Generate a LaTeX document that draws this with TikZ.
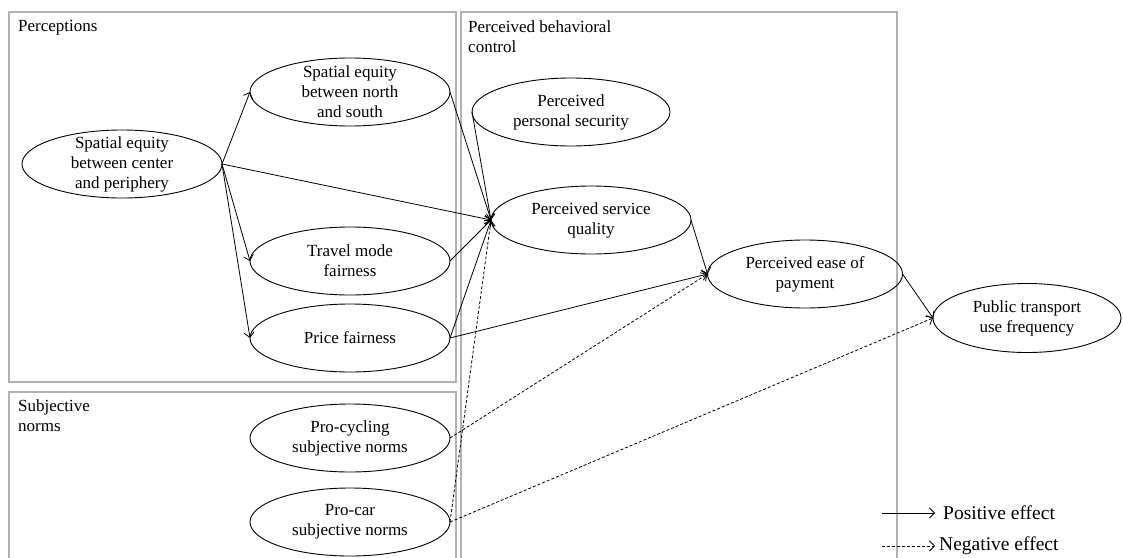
\documentclass[tikz,border=0pt]{standalone}
\usepackage{fontspec}
\setmainfont{Liberation Serif}
\usetikzlibrary{shapes.geometric, arrows.meta, positioning, backgrounds}

\begin{document}
\begin{tikzpicture}[
    x=1pt, y=1pt,
    node distance=10pt,
    latent/.style={
        ellipse, draw=black, line width=0.9pt,
        minimum width=200pt, minimum height=68pt,
        inner sep=-8pt, outer sep=0pt, align=center,
        font=\fontsize{17}{20}\selectfont
    },
    zone/.style={draw=black!30, line width=1.2pt},
    zonelbl/.style={anchor=north west, inner sep=0pt, align=left,
        font=\fontsize{17}{20}\selectfont},
    legtxt/.style={anchor=west, inner sep=0pt, font=\fontsize{19.5}{22}\selectfont},
    posarr/.style={-{Straight Barb[length=5pt, width=10pt]}, line width=0.8pt},
    negarr/.style={posarr, dash pattern=on 3pt off 2pt},
]
\useasboundingbox (0,0) rectangle (1123,-557);

%% ---- PERCEPTIONS ----
\node[latent] (cp) at (122,-164) {Spatial equity\\between center\\and periphery};
\node[latent] (ns) at (350,-92) {Spatial equity\\between north\\and south};
\node[latent, below=101pt of ns] (tm) {Travel mode\\fairness};
\node[latent, below=9pt of tm]   (pf) {Price fairness};

%% ---- SUBJECTIVE NORMS ----
\node[latent, below=32pt of pf]   (pcyc) {Pro-cycling\\subjective norms};
\node[latent, below=16pt of pcyc] (pcar) {Pro-car\\subjective norms};

%% ---- PERCEIVED BEHAVIORAL CONTROL ----
\node[latent, minimum width=198pt] (ps) at (571,-112) {Perceived\\personal security};
\node[latent]                      (sq) at (591,-220) {Perceived service\\quality};
\node[latent, minimum width=195pt] (ep) at (805,-274) {Perceived ease of\\payment};

%% ---- OUTCOME ----
\node[latent, minimum width=188pt, minimum height=69pt] (pt) at (1027,-318) {Public transport\\use frequency};

%% ---- ZONE LABELS ----
\node[zonelbl] (perclbl) at (18,-20)  {Perceptions};
\node[zonelbl] (snlbl)   at (18,-399) {Subjective\\norms};
\node[zonelbl] (pbclbl)  at (468,-21) {Perceived behavioral\\control};

%% ---- POSITIVE EFFECTS ----
\foreach \dst in {ns, tm, pf}
    \draw[posarr] (cp.east) -- (\dst.west);
\foreach \src in {cp, ns, tm, pf}
    \draw[posarr] (\src.east) -- (sq.west);
\draw[posarr] (ps.west) -- (sq.west);
\draw[posarr] (pf.east) -- (ep.west);
\draw[posarr] (sq.east) -- (ep.west);
\draw[posarr] (ep.east) -- (pt.west);

%% ---- NEGATIVE EFFECTS ----
\draw[negarr] (pcyc.east) -- (ep.west);
\draw[negarr] (pcar.east) -- (sq.west);
\draw[negarr] (pcar.east) -- (pt.west);

%% ---- LEGEND ----
\node[legtxt] (legpos) at (943,-513) {Positive effect};
\node[legtxt] (legneg) at (939,-546) {Negative effect};
\coordinate (legpos0) at (882,-513);
\coordinate (legneg0) at (882,-546);
\draw[posarr] (legpos0) -- ([xshift=-8pt]legpos.west);
\draw[negarr] (legneg0) -- ([xshift=-4pt]legneg.west);

%% ---- BACKGROUND ZONES ----
\begin{scope}[on background layer]
    \fill[white] (0,0) rectangle (1123,-557);
    \clip (0,0) rectangle (1123,-557);
    \draw[zone] (9,-12)   rectangle (456,-382);
    \draw[zone] (9,-392)  rectangle (456,-580);
    \draw[zone] (461,-12) rectangle (897,-580);
\end{scope}

\end{tikzpicture}
\end{document}
